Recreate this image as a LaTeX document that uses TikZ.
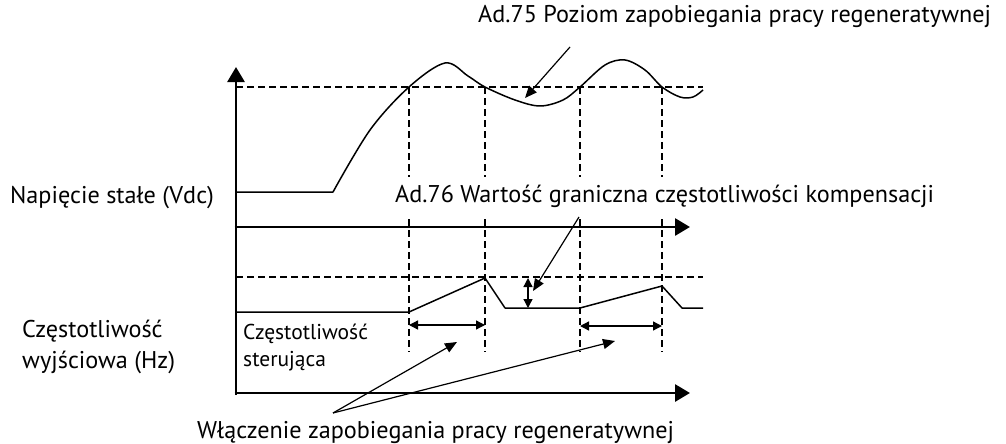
\documentclass[tikz,border=0pt]{standalone}
\usepackage{fontspec}
\setmainfont{PT Sans}
\usetikzlibrary{arrows.meta,positioning}

\begin{document}
\begin{tikzpicture}[x=1pt,y=-1pt,
  axis/.style={line width=2.8pt,-{Triangle[length=15pt,width=17pt]}},
  wave/.style={line width=1.5pt,line join=round},
  guide/.style={line width=1.2pt,dash pattern=on 7pt off 4pt},
  pointer/.style={line width=1.2pt,-{Triangle[length=12pt,width=10pt]}},
  span/.style={line width=1.3pt,{Triangle[length=9pt,width=9pt]}-{Triangle[length=9pt,width=9pt]}},
  txt/.style={font=\fontsize{24.2}{31}\selectfont,inner sep=0pt,align=left},
  smalltxt/.style={font=\fontsize{21.5}{27}\selectfont,inner sep=0pt,align=left}]
\useasboundingbox (0,0) rectangle (1006,444);

% axes
\coordinate (org) at (236,395);
\coordinate (ytip) at (236,67);
\coordinate (mid) at (234.6,227);
\coordinate (midtip) at (690,227);
\coordinate (low) at (234.6,393);
\coordinate (lowtip) at (690,393);
\draw[axis] (org) -- (ytip);
\draw[axis] (mid) -- (midtip);
\draw[axis] (low) -- (lowtip);

% limit levels and switching instants
\draw[guide] (236,87) -- (703,87);
\draw[guide] (236,277) -- (703,277);
\foreach \x in {409,485,580,662}
  \draw[guide] (\x,87) -- (\x,352);

% dc voltage
\draw[wave] (236,192) -- plot[smooth,tension=0.55] coordinates {(333,192) (370,130) (409,87) (445,63) (468,76) (485,87) (515,100) (540,106) (563,100) (580,87) (605,65) (625,60) (645,70) (662,87) (680,97) (693,97) (703,90)};

% output frequency
\draw[wave] (236,312) -- (409,312) -- (485,278) -- (505,308) -- (580,308) -- (662,286) -- (682,308) -- (703,308);

% labels
\node[txt,anchor=base west] (ad75) at (478,23) {Ad.75 Poziom zapobiegania pracy regeneratywnej};
\node[txt,anchor=base west,fill=white,inner ysep=8pt] (ad76) at (395,202) {Ad.76 Wartość graniczna częstotliwości kompensacji};
\node[txt,anchor=base west] (vdc) at (10,203) {Napięcie stałe (Vdc)};
\node[txt,anchor=west] (hz) at (22,347) {Częstotliwość\\wyjściowa (Hz)};
\node[smalltxt,anchor=west] (ctrl) at (243,348) {Częstotliwość\\sterująca};
\node[txt,anchor=base west] (enable) at (197,438) {Włączenie zapobiegania pracy regeneratywnej};

% pointers
\coordinate (p75) at (570,47);
\coordinate (lvl) at (525,98);
\draw[pointer] (p75) -- (lvl);
\coordinate (p76) at (579,217);
\coordinate (gap) at (533,291);
\draw[pointer] (p76) -- (gap);
\coordinate (fork) at (333,413);
\coordinate (on1) at (457,342);
\coordinate (on2) at (615,341);
\draw[pointer] (fork) -- (on1);
\draw[pointer] (fork) -- (on2);

% spans
\coordinate (s1a) at (409,325);
\coordinate (s1b) at (485,325);
\coordinate (s2a) at (580,326);
\coordinate (s2b) at (662,326);
\coordinate (ga) at (528,278);
\coordinate (gb) at (528,308);
\draw[span] (s1a) -- (s1b);
\draw[span] (s2a) -- (s2b);
\draw[span] (ga) -- (gb);
\end{tikzpicture}
\end{document}
